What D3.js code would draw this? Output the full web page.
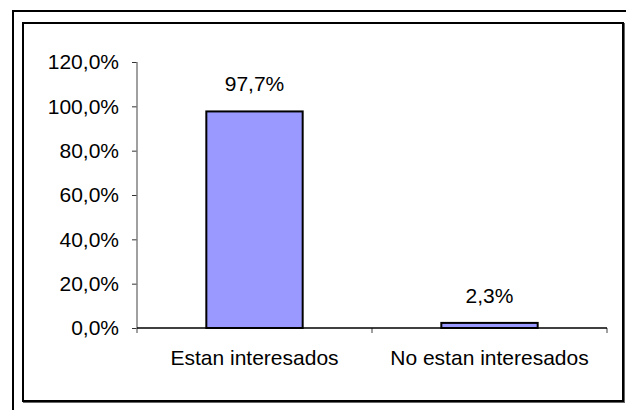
<!DOCTYPE html>
<html>
<head>
<meta charset="utf-8">
<script src="https://cdn.jsdelivr.net/npm/d3@7"></script>
<style>
  html, body { margin: 0; padding: 0; background: #fff; }
  svg { display: block; }
  text { font-family: "Liberation Sans", Arial, sans-serif; fill: #000; }
</style>
</head>
<body>
<svg id="chart" width="626" height="410"></svg>
<script>
const categories = ["Estan interesados", "No estan interesados"];
const values = [0.977, 0.023];
const valueLabels = ["97,7%", "2,3%"];
const yTicks = [0, 0.2, 0.4, 0.6, 0.8, 1.0, 1.2];

const svg = d3.select("#chart");
const W = 626, H = 410;

svg.append("rect").attr("x", 0).attr("y", 0).attr("width", W).attr("height", H).attr("fill", "#fff");

// outer border (clipped by window on right and bottom)
svg.append("rect").attr("x", 13).attr("y", 11).attr("width", 700).attr("height", 500)
  .attr("fill", "none").attr("stroke", "#000").attr("stroke-width", 2);

// inner chart area border with shadow
svg.append("rect").attr("x", 24).attr("y", 24).attr("width", 600).attr("height", 378)
  .attr("fill", "none").attr("stroke", "#666").attr("stroke-width", 2);
svg.append("rect").attr("x", 23).attr("y", 23).attr("width", 600).attr("height", 378)
  .attr("fill", "#fff").attr("stroke", "#000").attr("stroke-width", 2);

const plot = { left: 137, right: 607, top: 62, bottom: 328 };

const x = d3.scaleBand().domain(categories)
  .range([plot.left, plot.right]).paddingInner(0.59).paddingOuter(0.295);
const y = d3.scaleLinear().domain([0, 1.2]).range([plot.bottom, plot.top]);

const locale = d3.formatLocale({ decimal: ",", thousands: ".", grouping: [3], currency: ["", "€"] });
const fmt = locale.format(".1%");

const FS = 21;

// bars
svg.append("g").selectAll("rect").data(values).join("rect")
  .attr("x", (d, i) => x(categories[i]))
  .attr("y", d => y(d))
  .attr("width", x.bandwidth())
  .attr("height", d => y(0) - y(d))
  .attr("fill", "#9999ff")
  .attr("stroke", "#000")
  .attr("stroke-width", 2);

// value labels
svg.append("g").selectAll("text").data(values).join("text")
  .attr("x", (d, i) => x(categories[i]) + x.bandwidth() / 2)
  .attr("y", d => y(d) - 20)
  .attr("text-anchor", "middle")
  .attr("font-size", FS)
  .text((d, i) => valueLabels[i]);

// y axis
const yAxis = d3.axisLeft(y).tickValues(yTicks).tickFormat(fmt).tickSize(5).tickSizeOuter(0).tickPadding(13);
const gy = svg.append("g").attr("transform", `translate(${plot.left},0)`).call(yAxis);
gy.select(".domain").remove();
gy.selectAll(".tick line").attr("stroke", "#333");
gy.selectAll(".tick text").attr("font-size", FS).attr("font-family", "Liberation Sans, Arial, sans-serif").attr("fill", "#000");
svg.append("line").attr("x1", plot.left).attr("x2", plot.left)
  .attr("y1", plot.top).attr("y2", plot.bottom + 5)
  .attr("stroke", "#808080").attr("stroke-width", 1.5);

// x axis
const xAxis = d3.axisBottom(x).tickSize(0).tickSizeOuter(0).tickPadding(22);
const gx = svg.append("g").attr("transform", `translate(0,${plot.bottom})`).call(xAxis);
gx.select(".domain").remove();
gx.selectAll(".tick text").attr("font-size", FS).attr("font-family", "Liberation Sans, Arial, sans-serif").attr("fill", "#000").attr("dy", "0.71em");
// boundary ticks between categories
const bounds = [plot.left + x.step(), plot.right];
svg.append("g").selectAll("line").data(bounds).join("line")
  .attr("x1", d => d).attr("x2", d => d)
  .attr("y1", plot.bottom).attr("y2", plot.bottom + 5)
  .attr("stroke", "#808080").attr("stroke-width", 1.5);
svg.append("line").attr("x1", plot.left).attr("x2", plot.right)
  .attr("y1", plot.bottom).attr("y2", plot.bottom)
  .attr("stroke", "#000").attr("stroke-width", 1.5);
</script>
</body>
</html>
